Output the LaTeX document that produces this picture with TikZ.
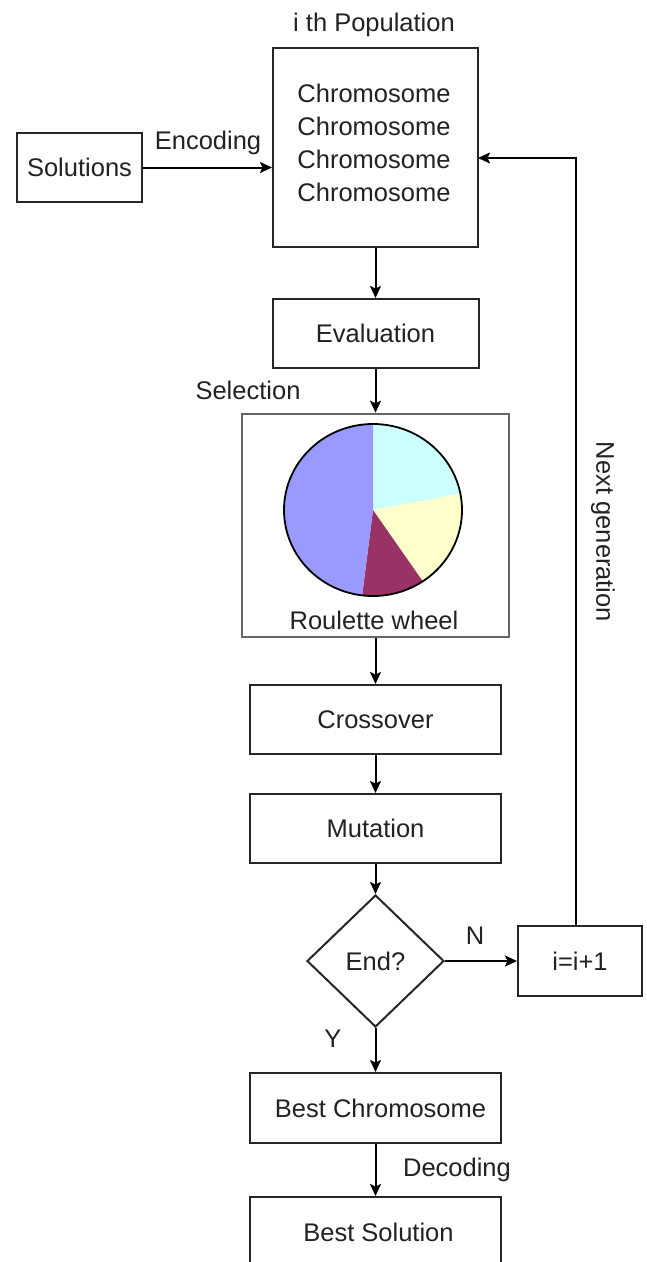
\documentclass[tikz,border=0pt]{standalone}
\usepackage{fontspec}
\setmainfont{Liberation Sans}
\usetikzlibrary{shapes.geometric,arrows.meta}
\definecolor{pieblue}{HTML}{9999FF}
\definecolor{piecyan}{HTML}{CCFFFF}
\definecolor{pieyellow}{HTML}{FFFFCC}
\definecolor{piemaroon}{HTML}{993366}
\definecolor{txt}{HTML}{222222}
\tikzset{
  box/.style={draw=black!85, line width=2pt, rectangle, inner sep=0pt, text=txt, align=center},
  lbl/.style={text=txt, inner sep=0pt},
  conn/.style={line width=2pt, draw=black, -{Stealth[length=12pt,width=11pt,inset=2.5pt]}},
}
\begin{document}
\begin{tikzpicture}[x=1pt,y=-1pt,font=\fontsize{25.5}{33}\selectfont]
\useasboundingbox (0,0) rectangle (646,1262);
\clip (0,0) rectangle (646,1262);
\fill[white] (0,0) rectangle (646,1262);

% nodes
\node[box, minimum width=125pt, minimum height=69pt] (sol) at (79.5,167.5) {Solutions};
\node[box, minimum width=205pt, minimum height=199pt] (pop) at (375.5,147.5) {};
\node[lbl, align=center] (chr) at (374,142.5) {Chromosome\\Chromosome\\Chromosome\\Chromosome};
\node[lbl] (poplbl) at (374,25) {i th Population};
\node[box, minimum width=206pt, minimum height=69pt] (eval) at (375.5,333.5) {Evaluation};
\node[box, draw=black!60, line width=2.6pt, minimum width=267pt, minimum height=223pt] (roul) at (375.5,525.5) {};
\node[lbl] (roullbl) at (374,620) {Roulette wheel};
\node[box, minimum width=251pt, minimum height=69pt] (cross) at (375.5,719.5) {Crossover};
\node[box, minimum width=251pt, minimum height=69pt] (mut) at (375.5,828.5) {Mutation};
\node[box, diamond, minimum width=137pt, minimum height=132pt] (end) at (375.5,961) {End?};
\node[box, minimum width=124pt, minimum height=70pt] (inc) at (580,961) {i=i+1};
\node[box, minimum width=251pt, minimum height=70pt] (bestc) at (375.5,1108) {\hspace*{10pt}Best Chromosome};
\node[box, minimum width=251pt, minimum height=70pt] (bests) at (375.5,1232) {\hspace*{6pt}Best Solution};

% pie chart
\coordinate (pc) at (373,510);
\fill[piecyan] (pc) -- ++(11:89pt and 86pt) arc[start angle=11, end angle=90, x radius=89pt, y radius=86pt] -- cycle;
\fill[pieyellow] (pc) -- ++(-56:89pt and 86pt) arc[start angle=-56, end angle=11, x radius=89pt, y radius=86pt] -- cycle;
\fill[piemaroon] (pc) -- ++(-97:89pt and 86pt) arc[start angle=-97, end angle=-56, x radius=89pt, y radius=86pt] -- cycle;
\fill[pieblue] (pc) -- ++(90:89pt and 86pt) arc[start angle=90, end angle=263, x radius=89pt, y radius=86pt] -- cycle;
\draw[line width=1.8pt] (pc) ellipse[x radius=89pt, y radius=86pt];

% labels
\node[lbl] (enc) at (208,143) {Encoding};
\node[lbl] (sel) at (248,390) {Selection};
\node[lbl] (nl) at (475,936) {N};
\node[lbl] (yl) at (333,1039) {Y};
\node[lbl] (dec) at (457,1170) {Decoding};
\node[lbl, rotate=-90] (nextgen) at (603,532) {Next generation};

% connectors
\draw[conn] (sol.east) -- (sol.east -| pop.west);
\draw[conn] (pop.south) -- (eval.north);
\draw[conn] (eval.south) -- (roul.north);
\draw[conn] (roul.south) -- (cross.north);
\draw[conn] (cross.south) -- (mut.north);
\draw[conn] (mut.south) -- (end.north);
\draw[conn] (end.east) -- (inc.west);
\coordinate (ret) at (478,158);
\draw[conn] ([xshift=-4pt]inc.north) |- (ret);
\draw[conn] (end.south) -- (bestc.north);
\draw[conn] (bestc.south) -- (bests.north);
\end{tikzpicture}
\end{document}
